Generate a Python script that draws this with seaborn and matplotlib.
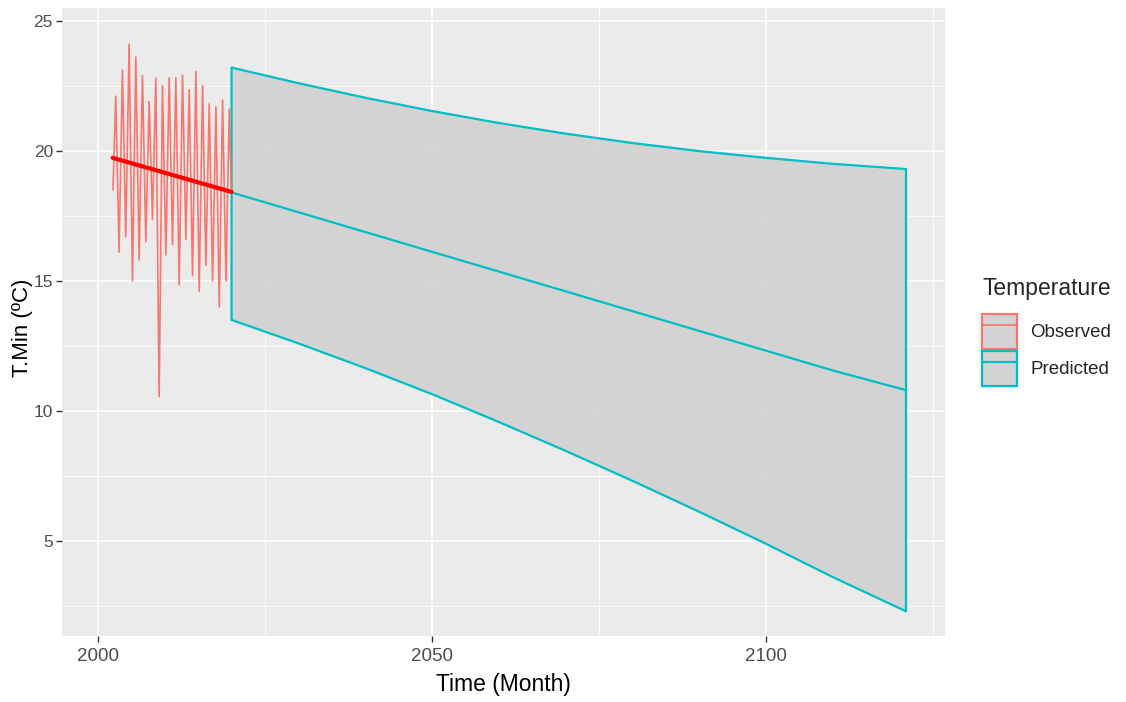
import matplotlib
matplotlib.use("Agg")
import numpy as np
import pandas as pd
import matplotlib.pyplot as plt
import seaborn as sns
from matplotlib.patches import Patch
from matplotlib.lines import Line2D
from matplotlib.ticker import MultipleLocator

# -----------------------------
# data
# -----------------------------
# observed monthly minimum temperature (peaks / troughs of each year)
obs_year = [2002.25, 2002.66, 2003.16, 2003.66, 2004.16, 2004.66, 2005.16, 2005.66,
            2006.16, 2006.66, 2007.16, 2007.66, 2008.16, 2008.66, 2009.16, 2009.66,
            2010.16, 2010.66, 2011.16, 2011.66, 2012.16, 2012.66, 2013.16, 2013.66,
            2014.16, 2014.66, 2015.16, 2015.66, 2016.16, 2016.66, 2017.16, 2017.66,
            2018.16, 2018.66, 2019.16, 2019.66, 2019.95]
obs_temp = [18.5, 22.1, 16.1, 23.1, 16.7, 24.1, 15.0, 23.6,
            15.8, 22.9, 16.5, 21.9, 17.35, 22.8, 10.55, 22.5,
            16.0, 22.8, 16.4, 22.8, 14.85, 22.9, 16.6, 22.35,
            15.2, 23.05, 14.6, 22.5, 15.6, 21.8, 15.0, 21.7,
            14.0, 21.95, 15.0, 21.6, 18.4]

# linear trend of the observed series
trend_year = [2002.2, 2020.0]
trend_temp = [19.73, 18.42]

# prediction with interval
pred_year = [2020, 2030, 2040, 2050, 2060, 2070, 2080, 2090, 2100, 2110, 2121]
pred_mean = [18.4, 17.64, 16.88, 16.12, 15.36, 14.6, 13.84, 13.08, 12.32, 11.56, 10.8]
pred_upper = [23.2, 22.6, 22.04, 21.53, 21.07, 20.66, 20.3, 19.99, 19.73, 19.5, 19.3]
pred_lower = [13.5, 12.6, 11.65, 10.65, 9.58, 8.47, 7.32, 6.13, 4.9, 3.62, 2.3]

obs_df = pd.DataFrame({"year": obs_year, "temp": obs_temp})
trend_df = pd.DataFrame({"year": trend_year, "temp": trend_temp})
pred_df = pd.DataFrame({"year": pred_year, "mean": pred_mean,
                        "upper": pred_upper, "lower": pred_lower})

obs_col = "#F8766D"
pred_col = "#00BFC4"

# -----------------------------
# plot
# -----------------------------
sns.set_theme(style="darkgrid", rc={"axes.facecolor": "#EBEBEB",
                                    "grid.color": "white"})
plt.rcParams['font.family'] = ['Liberation Sans', 'DejaVu Sans']

fig, ax = plt.subplots(figsize=(11.26, 7.02), dpi=100)
fig.subplots_adjust(left=0.055, right=0.839, top=0.989, bottom=0.094)

ax.fill_between(pred_df["year"], pred_df["lower"], pred_df["upper"],
                facecolor="#CFCFCF", alpha=0.85, edgecolor="none", zorder=2)
ax.fill_between(pred_df["year"], pred_df["lower"], pred_df["upper"],
                facecolor="none", edgecolor=pred_col, linewidth=1.6, zorder=3)

sns.lineplot(data=obs_df, x="year", y="temp", color=obs_col, linewidth=1.2,
             errorbar=None, ax=ax, zorder=4)
sns.lineplot(data=trend_df, x="year", y="temp", color="#FF0000", linewidth=3,
             errorbar=None, ax=ax, zorder=5)
sns.lineplot(data=pred_df, x="year", y="mean", color=pred_col, linewidth=1.6,
             errorbar=None, ax=ax, zorder=4)

ax.set_xlim(1994.6, 2126.8)
ax.set_ylim(1.35, 25.5)
ax.set_xticks([2000, 2050, 2100])
ax.set_yticks([5, 10, 15, 20, 25])
ax.xaxis.set_minor_locator(MultipleLocator(25))
ax.yaxis.set_minor_locator(MultipleLocator(2.5))
ax.grid(which="major", color="white", linewidth=1.2)
ax.grid(which="minor", color="white", linewidth=0.6)
ax.tick_params(which="major", bottom=True, left=True, length=4.5, width=1,
               color="#333333", labelcolor="#4D4D4D")
ax.tick_params(axis="x", which="major", labelsize=13.5, pad=4)
ax.tick_params(axis="y", which="major", labelsize=12.5, pad=2)
ax.tick_params(which="minor", length=0)
for s in ax.spines.values():
    s.set_visible(False)

ax.set_xlabel("Time (Month)", fontsize=16.5, color="black", labelpad=6)
ax.set_ylabel("T.Min (ºC)", fontsize=16, color="black")
ax.yaxis.set_label_coords(-0.033, 0.49)

handles = [
    (Patch(facecolor="#D3D3D3", edgecolor=obs_col, linewidth=1.6),
     Line2D([], [], color=obs_col, linewidth=1.2)),
    (Patch(facecolor="#D3D3D3", edgecolor=pred_col, linewidth=1.6),
     Line2D([], [], color=pred_col, linewidth=1.6)),
]
leg = ax.legend(handles, ["Observed", "Predicted"], title="Temperature",
                loc="upper left", bbox_to_anchor=(0.864, 0.619),
                bbox_transform=fig.transFigure, frameon=False, borderpad=0,
                fontsize=13.5, title_fontsize=16.5, handlelength=1.85,
                handleheight=2.5, labelspacing=0.1, handletextpad=0.7,
                alignment="left")
leg._legend_box.sep = 10

fig.savefig("out.png", dpi=100)
